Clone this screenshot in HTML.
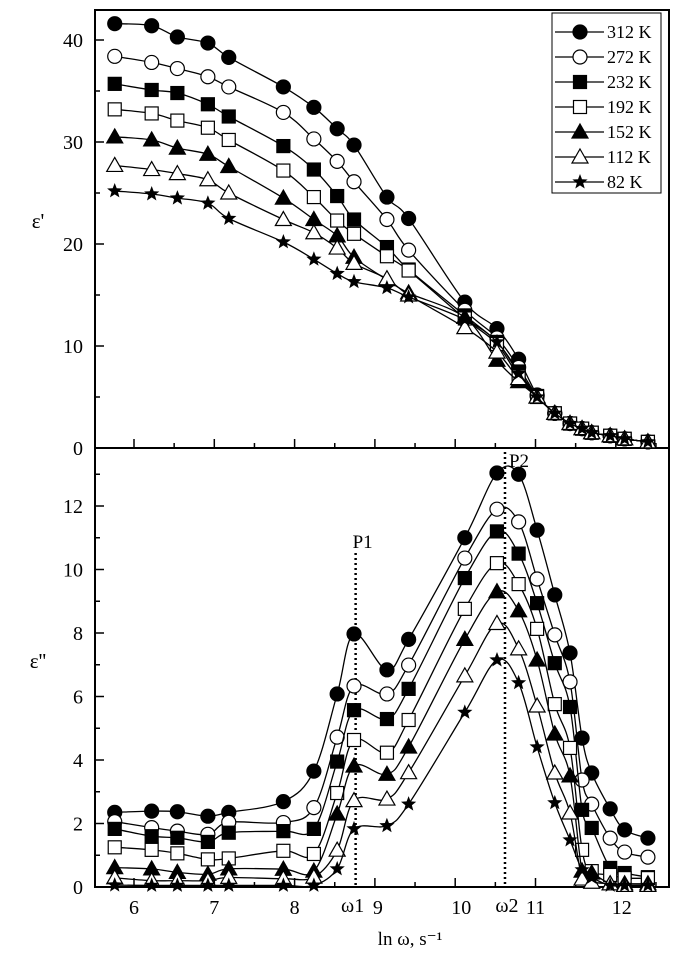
<!DOCTYPE html>
<html><head><meta charset="utf-8"><style>
body{margin:0;background:#fff;}
svg text{font-family:"Liberation Serif",serif;fill:#000;}
</style></head><body>
<svg id="chart" width="689" height="962" xmlns="http://www.w3.org/2000/svg">
<g id="g"></g>
</svg>
<script>
const xVals=[5.76,6.22,6.54,6.92,7.18,7.86,8.24,8.53,8.74,9.15,9.42,10.12,10.52,10.79,11.02,11.24,11.43,11.58,11.70,11.93,12.11,12.40];
const seriesNames=["312 K","272 K","232 K","192 K","152 K","112 K","82 K"];
const markers=["circleF","circleO","squareF","squareO","triF","triO","star"];
const tail=[3.4,2.4,1.9,1.5,1.2,0.9,0.6];
const epsReal312=[41.6,41.4,40.3,39.7,38.3,35.4,33.4,31.3,29.7,24.6,22.5,14.3,11.7,8.7,5.2].concat(tail);
const epsReal272=[38.4,37.8,37.2,36.4,35.4,32.9,30.3,28.1,26.1,22.4,19.4,13.5,10.8,7.9,5.1].concat(tail);
const epsReal232=[35.7,35.1,34.8,33.7,32.5,29.6,27.3,24.7,22.4,19.7,17.5,13.0,10.4,7.5,5.1].concat(tail);
const epsReal192=[33.2,32.8,32.1,31.4,30.2,27.2,24.6,22.3,21.0,18.8,17.4,12.7,10.2,7.0,5.0].concat(tail);
const epsReal152=[30.5,30.2,29.4,28.8,27.6,24.5,22.4,20.8,18.7,16.5,15.2,12.8,8.6,6.5,5.0].concat(tail);
const epsReal112=[27.7,27.3,26.9,26.3,25.0,22.4,21.1,19.6,18.1,16.6,15.0,11.8,9.4,6.8,5.0].concat(tail);
const epsReal82=[25.2,24.9,24.5,24.0,22.5,20.2,18.5,17.1,16.3,15.7,14.8,12.6,10.4,7.3,5.0].concat(tail);
const epsImag312=[2.35,2.39,2.37,2.23,2.35,2.69,3.65,6.08,7.97,6.84,7.8,11.0,13.04,13.0,11.24,9.2,7.37,4.69,3.59,2.46,1.8,1.54];
const epsImag272=[2.06,1.87,1.76,1.66,2.04,2.03,2.5,4.72,6.33,6.08,6.99,10.36,11.9,11.5,9.7,7.94,6.46,3.37,2.61,1.54,1.1,0.94];
const epsImag232=[1.83,1.6,1.55,1.42,1.71,1.76,1.83,3.95,5.57,5.29,6.24,9.73,11.2,10.5,8.94,7.05,5.67,2.43,1.86,0.6,0.44,0.31];
const epsImag192=[1.25,1.17,1.06,0.87,0.9,1.14,1.04,2.96,4.63,4.23,5.26,8.76,10.2,9.54,8.13,5.76,4.38,1.17,0.5,0.38,0.28,0.28];
const epsImag152=[0.61,0.57,0.46,0.4,0.57,0.56,0.5,2.3,3.81,3.55,4.41,7.8,9.3,8.7,7.15,4.82,3.5,0.5,0.44,0.1,0.1,0.1];
const epsImag112=[0.29,0.2,0.2,0.2,0.3,0.26,0.31,1.16,2.72,2.77,3.6,6.65,8.3,7.5,5.7,3.59,2.33,0.25,0.15,0.1,0.05,0.05];
const epsImag82=[0.06,0.05,0.05,0.05,0.05,0.05,0.05,0.57,1.83,1.93,2.61,5.5,7.15,6.43,4.41,2.65,1.48,0.54,0.3,0.05,0.05,0.05];
const realSeries=[epsReal312,epsReal272,epsReal232,epsReal192,epsReal152,epsReal112,epsReal82];
const imagSeries=[epsImag312,epsImag272,epsImag232,epsImag192,epsImag152,epsImag112,epsImag82];
const xTicks=[6,7,8,9,10,11,12];
const topYTicks=[0,10,20,30,40];
const botYTicks=[0,2,4,6,8,10,12];
const P1=8.76, P2=10.62;

const L=95,R=669,T=10,M=448,B=887;
const X=v=>134+(v-6)*80.3;
const Yt=v=>448-v*10.2;
const Yb=v=>887-v*31.75;
const NS="http://www.w3.org/2000/svg";
const g=document.getElementById('g');
function el(t,a,p){const e=document.createElementNS(NS,t);for(const k in a)e.setAttribute(k,a[k]);(p||g).appendChild(e);return e;}
function txt(s,x,y,size,anchor,name){const e=el('text',{x:x,y:y,'font-size':size,'text-anchor':anchor||'middle'});e.textContent=s;


return e;}
function smooth(pts){let d='M'+pts[0][0]+','+pts[0][1];
for(let i=0;i<pts.length-1;i++){const p0=pts[Math.max(0,i-1)],p1=pts[i],p2=pts[i+1],p3=pts[Math.min(pts.length-1,i+2)];
const c1x=p1[0]+(p2[0]-p0[0])/6,c1y=p1[1]+(p2[1]-p0[1])/6,c2x=p2[0]-(p3[0]-p1[0])/6,c2y=p2[1]-(p3[1]-p1[1])/6;
d+=' C'+c1x.toFixed(1)+','+c1y.toFixed(1)+' '+c2x.toFixed(1)+','+c2y.toFixed(1)+' '+p2[0].toFixed(1)+','+p2[1].toFixed(1);}
return d;}
function marker(type,x,y,parent,name){const s=7;let e;
const fill=(type.endsWith('F')||type==='star')?'#000':'#fff';
if(type.startsWith('circle'))e=el('circle',{cx:x,cy:y,r:s,fill:fill,stroke:'#000','stroke-width':1.2},parent);
else if(type.startsWith('square'))e=el('rect',{x:x-s+0.5,y:y-s+0.5,width:2*s-1,height:2*s-1,fill:fill,stroke:'#000','stroke-width':1.2},parent);
else if(type.startsWith('tri'))e=el('polygon',{points:`${x},${y-s-1} ${x+s+1},${y+s-1} ${x-s-1},${y+s-1}`,fill:fill,stroke:'#000','stroke-width':1.2},parent);
else{let p=[];for(let i=0;i<10;i++){const r=i%2?3.4:8,a=-Math.PI/2+i*Math.PI/5;p.push((x+r*Math.cos(a)).toFixed(1)+','+(y+r*Math.sin(a)).toFixed(1));}
e=el('polygon',{points:p.join(' '),fill:'#000'},parent);}


return e;}

const f1=el('rect',{x:L,y:T,width:R-L,height:M-T,fill:'none',stroke:'#000','stroke-width':2});


const f2=el('rect',{x:L,y:M,width:R-L,height:B-M,fill:'none',stroke:'#000','stroke-width':2});



for(let v=6;v<=12.5;v+=0.5){const x=X(v),len=(v%1===0)?9:5;
el('line',{x1:x,y1:M,x2:x,y2:M-len,stroke:'#000','stroke-width':1.5});
el('line',{x1:x,y1:B,x2:x,y2:B-len,stroke:'#000','stroke-width':1.5});}
xTicks.forEach(v=>{if(v===9||v===11)return;txt(String(v),X(v)+(v>=10?6:0),914,20,'middle','x-tick-label');});
txt('9',X(9)+3,914,20,'middle','x-tick-label');
txt('11',X(11),914,20,'middle','x-tick-label');
txt('ω1',X(P1)-3,912,20,'middle','omega1-label');
txt('ω2',X(P2)+2,912,20,'middle','omega2-label');
topYTicks.forEach(v=>{const y=Yt(v);el('line',{x1:L,y1:y,x2:L+9,y2:y,stroke:'#000','stroke-width':1.5});
if(v<40)el('line',{x1:L,y1:Yt(v+5),x2:L+5,y2:Yt(v+5),stroke:'#000','stroke-width':1.5});
txt(String(v),83,y+7,20,'end','top-y-tick-label');});
botYTicks.forEach(v=>{const y=Yb(v);el('line',{x1:L,y1:y,x2:L+9,y2:y,stroke:'#000','stroke-width':1.5});
el('line',{x1:L,y1:Yb(v+1),x2:L+5,y2:Yb(v+1),stroke:'#000','stroke-width':1.5});
txt(String(v),83,y+7,20,'end','bottom-y-tick-label');});
txt("ε'",38,228,21,'middle','top-y-axis-title');
txt("ε''",38,668,21,'middle','bottom-y-axis-title');
txt("ln ω, s⁻¹",410,945,19,'middle','x-axis-title');
const p1=el('line',{x1:X(P1),y1:553,x2:X(P1),y2:B,stroke:'#000','stroke-width':2.5,'stroke-dasharray':'2,3'});


const p2=el('line',{x1:X(P2),y1:452,x2:X(P2),y2:B,stroke:'#000','stroke-width':2.5,'stroke-dasharray':'2,3'});


txt('P1',X(P1)+7,548,19,'middle','p1-label');
txt('P2',X(P2)+14,467,19,'middle','p2-label');

function drawSeries(data,Y,prefix){
data.forEach((arr,i)=>{const pts=arr.map((v,j)=>[X(xVals[j]),Y(v)]);
const gg=el('g',{});


el('path',{d:smooth(pts),fill:'none',stroke:'#000','stroke-width':1.3},gg);
pts.forEach(p=>marker(markers[i],p[0],p[1],gg,prefix+'-point'));});}
drawSeries(realSeries,Yt,'eps-real');
drawSeries(imagSeries,Yb,'eps-imag');

const lg=el('g',{});


el('rect',{x:552,y:13,width:109,height:180,fill:'#fff',stroke:'#000','stroke-width':1},lg);
seriesNames.forEach((n,i)=>{const y=32+i*25;
const e=el('g',{},lg);


el('line',{x1:555,y1:y,x2:604,y2:y,stroke:'#000','stroke-width':1.3},e);
marker(markers[i],580,y,e,'legend-marker');
const t=el('text',{x:607,y:y+6,'font-size':18},e);t.textContent=n;});
</script>
</body></html>
